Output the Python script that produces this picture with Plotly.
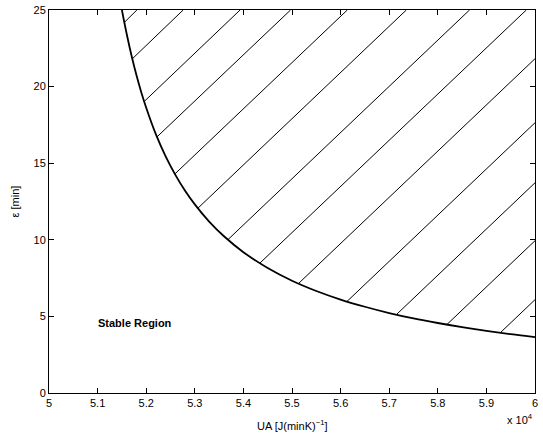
import numpy as np
import plotly.graph_objects as go

# Boundary curve (UA in units of 1e4)
ua = [5.15, 5.16, 5.17, 5.18, 5.19, 5.20, 5.22, 5.24, 5.26, 5.28, 5.30, 5.33,
      5.36, 5.40, 5.45, 5.50, 5.55, 5.60, 5.65, 5.70, 5.75, 5.80, 5.85, 5.90,
      5.95, 6.00]
eps = [25.0, 23.42, 22.00, 20.74, 19.62, 18.62, 16.88, 15.45, 14.24, 13.20,
       12.31, 11.17, 10.23, 9.19, 8.16, 7.33, 6.66, 6.10, 5.63, 5.22, 4.87,
       4.57, 4.30, 4.06, 3.84, 3.65]

# Hatch lines: eps = offset + slope*(UA-5)
hatch_offsets = [19.55, 16.68, 13.15, 10.02, 6.50, 2.84, -1.08, -4.60, -8.32,
                 -12.50, -16.42, -20.20, -24.05]
hatch_slope = 30.14

x_ticks = [5, 5.1, 5.2, 5.3, 5.4, 5.5, 5.6, 5.7, 5.8, 5.9, 6]
x_labels = ["5", "5.1", "5.2", "5.3", "5.4", "5.5", "5.6", "5.7", "5.8", "5.9", "6"]
y_ticks = [0, 5, 10, 15, 20, 25]

X0, X1, Y0, Y1 = 5.0, 6.0, 0.0, 25.0

xs = np.linspace(ua[0], ua[-1], 4000)
cy = np.interp(xs, ua, eps)
hx, hy = [], []
for b in hatch_offsets:
    ly = b + hatch_slope * (xs - X0)
    d = ly - cy
    idx = np.where(d >= 0)[0]
    if len(idx) == 0:
        continue
    i = idx[0]
    xa = xs[i]
    ya = cy[i]
    xt = X0 + (Y1 - b) / hatch_slope
    if xt <= X1:
        xb, yb = xt, Y1
    else:
        xb, yb = X1, b + hatch_slope * (X1 - X0)
    hx += [xa, xb, None]
    hy += [ya, yb, None]

fig = go.Figure()
fig.add_trace(go.Scatter(x=hx, y=hy, mode="lines",
                         line=dict(color="black", width=1),
                         hoverinfo="skip", showlegend=False))
fig.add_trace(go.Scatter(x=ua, y=eps, mode="lines",
                         line=dict(color="black", width=1.8, shape="spline"),
                         showlegend=False))

font = dict(family="Liberation Sans, Arial, sans-serif", size=11, color="black")

fig.add_annotation(x=5.097, y=4.57, xref="x", yref="y", text="<b>Stable Region</b>",
                   showarrow=False, xanchor="left", yanchor="middle", font=font)
fig.add_annotation(x=1.0, y=-0.045, xref="paper", yref="paper",
                   text="x 10<sup>4</sup>", showarrow=False,
                   xanchor="right", yanchor="top", font=font)
fig.add_annotation(x=0.5, y=-0.084, xref="paper", yref="paper",
                   text="UA [J(minK)<sup>−1</sup>]", showarrow=False,
                   xanchor="center", yanchor="middle", font=font)
fig.add_annotation(x=-0.07, y=0.5, xref="paper", yref="paper",
                   text="ε [min]", showarrow=False, textangle=-90,
                   xanchor="center", yanchor="middle", font=font)

axis_common = dict(showgrid=False, zeroline=False, showline=True, linecolor="black",
                   linewidth=1, mirror="ticks", ticks="inside", ticklen=5,
                   tickcolor="black", tickfont=font, automargin=False)
fig.update_xaxes(range=[X0, X1], tickvals=x_ticks, ticktext=x_labels,
                 ticklabeloverflow="allow", **axis_common)
fig.update_yaxes(range=[Y0, Y1], tickvals=y_ticks,
                 ticklabeloverflow="allow", **axis_common)

fig.update_layout(width=543, height=439,
                  margin=dict(l=49, r=8, t=10, b=46),
                  paper_bgcolor="white", plot_bgcolor="white",
                  font=font)
fig.write_html("out.html", config={"displayModeBar": False},
               post_script="document.body.style.margin='0';document.body.style.overflow='hidden';")
